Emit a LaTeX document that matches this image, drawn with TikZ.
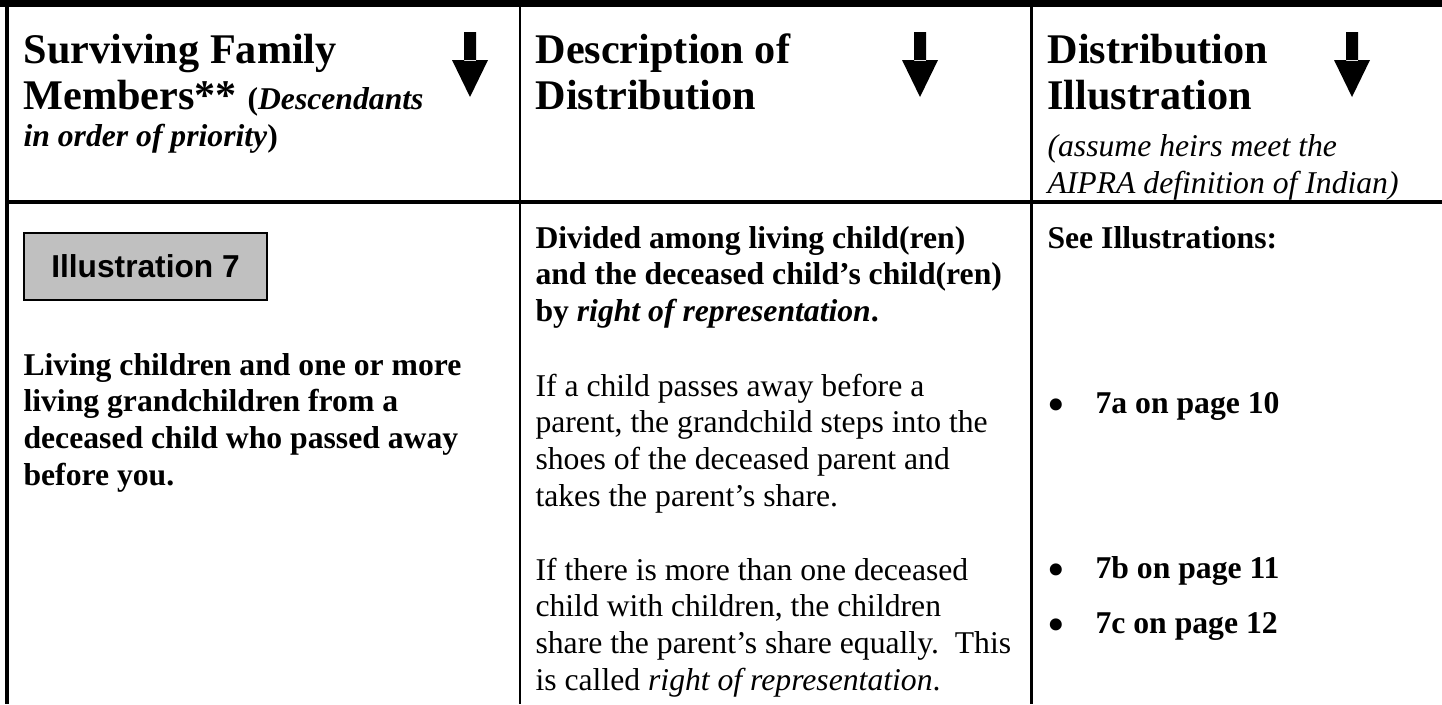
\documentclass[tikz,border=0pt]{standalone}
\usepackage{fontspec}
\setmainfont{Liberation Serif}
\newfontfamily\arialfont{Liberation Sans}

\definecolor{boxgray}{HTML}{C0C0C0}

\newcommand{\headfont}{\fontsize{16}{17.8}\selectfont\bfseries}
\newcommand{\bodyfont}{\fontsize{12}{13.95}\selectfont}
\newcommand{\smallhead}{\fontsize{12}{13.95}\selectfont}
\newcommand{\bigbullet}{\makebox[18.2pt][l]{\raisebox{-3.3pt}{\fontsize{19}{19}\selectfont\textbullet}}}

\tikzset{
  rule/.style={line width=1.5pt},
  colrule/.style={line width=1.1pt},
  cell/.style={anchor=base west, inner sep=0pt},
  illbox/.style={draw=black, fill=boxgray, line width=0.6pt,
    minimum width=92pt, minimum height=25.4pt, inner sep=0pt,
    font=\arialfont\bfseries\fontsize{12}{14}\selectfont},
}

\begin{document}
\begin{tikzpicture}[x=0.3788pt, y=-0.3788pt]

\useasboundingbox (0,0) rectangle (1442,704);

% table rules
\fill (0,0) rectangle (1442,7);
\draw[rule] (7,0) -- (7,704);
\draw[rule] (7,202) -- (1442,202);
\draw[colrule] (520,7) -- (520,704);
\draw[colrule] (1031.5,7) -- (1031.5,704);

% down arrows in the header
\foreach \ax in {470,920,1352} {%
  \fill (\ax-6,32) rectangle (\ax+6,61)
        (\ax-18,60) -- (\ax+18,60) -- (\ax,97) -- cycle;
}

% header cells
\node[cell] (hfamily) at (23,63) {\parbox[t]{175pt}{\raggedright\headfont
  Surviving Family\\
  Members** {\smallhead(\textit{Descendants}}\\[-3.8pt]
  {\smallhead\textit{in order of priority})}}};
\node[cell] (hdesc) at (535,63) {\parbox[t]{150pt}{\raggedright\headfont
  Description of\\ Distribution}};
\node[cell] (hillus) at (1047,63) {\parbox[t]{148pt}{\raggedright\headfont
  Distribution\\ Illustration\\
  {\smallhead\mdseries\itshape (assume heirs meet the}\\[-4pt]
  {\smallhead\mdseries\itshape AIPRA definition of Indian)}}};

% first column
\node[illbox] (ill7) at (145.5,266.5) {Illustration 7};
\node[cell] (living) at (23,375) {\parbox[t]{182pt}{\raggedright\bodyfont\bfseries
  Living children and one or more\\
  living grandchildren from a\\
  deceased child who passed away\\
  before you.}};

% second column
\node[cell] (divided) at (535,248) {\parbox[t]{186pt}{\raggedright\bodyfont\bfseries
  Divided among living child(ren)\\
  and the deceased child's child(ren)\\
  by \textit{right of representation}.}};
\node[cell] (steps) at (535,396) {\parbox[t]{186pt}{\raggedright\bodyfont
  If a child passes away before a\\
  parent, the grandchild steps into the\\
  shoes of the deceased parent and\\
  takes the parent's share.}};
\node[cell] (equal) at (535,580) {\parbox[t]{186pt}{\raggedright\bodyfont
  If there is more than one deceased\\
  child with children, the children\\
  share the parent's share equally.\ \ This\\
  is called \textit{right of representation}.}};

% third column
\node[cell] (see) at (1047,248) {\bodyfont\bfseries See Illustrations:};
\node[cell] (ill7a) at (1047,413) {\bodyfont\bigbullet\textbf{7a on page 10}};
\node[cell] (ill7b) at (1047,578) {\bodyfont\bigbullet\textbf{7b on page 11}};
\node[cell] (ill7c) at (1047,633) {\bodyfont\bigbullet\textbf{7c on page 12}};

\end{tikzpicture}
\end{document}
